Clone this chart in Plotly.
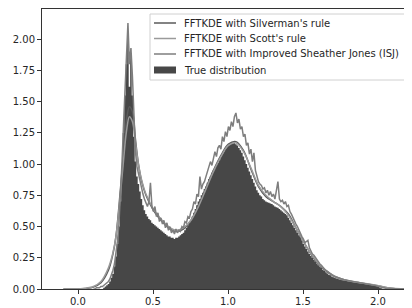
import plotly.graph_objects as go

# ---- data ----
TRUE_X0 = 0.15  # grid start for the true distribution, step 0.01
true_vals = [
    0.00, 0.00, 0.01, 0.02, 0.03, 0.04, 0.06, 0.09, 0.12, 0.18,
    0.26, 0.36, 0.50, 0.70, 0.95, 1.25, 1.55, 1.80, 1.98, 1.62,
    1.88, 1.55, 1.22, 1.02, 0.90, 0.84, 0.78, 0.72, 0.67, 0.63,
    0.60, 0.58, 0.56, 0.55, 0.53, 0.52, 0.51, 0.50, 0.49, 0.48,
    0.47, 0.46, 0.45, 0.44, 0.43, 0.42, 0.42, 0.41, 0.41, 0.40,
    0.41, 0.41, 0.42, 0.43, 0.44, 0.45, 0.47, 0.49, 0.51, 0.53,
    0.55, 0.58, 0.61, 0.64, 0.67, 0.70, 0.72, 0.75, 0.77, 0.80,
    0.82, 0.85, 0.88, 0.90, 0.93, 0.95, 0.97, 0.99, 1.01, 1.03,
    1.06, 1.08, 1.10, 1.12, 1.14, 1.15, 1.16, 1.17, 1.17, 1.17,
    1.16, 1.15, 1.13, 1.11, 1.09, 1.06, 1.03, 1.00, 0.97, 0.94,
    0.91, 0.88, 0.85, 0.82, 0.79, 0.77, 0.75, 0.74, 0.72, 0.71,
    0.70, 0.695, 0.69, 0.685, 0.68, 0.67, 0.66, 0.655, 0.65, 0.64,
    0.63, 0.62, 0.61, 0.60, 0.59, 0.57, 0.55, 0.53, 0.51, 0.49,
    0.47, 0.45, 0.43, 0.42, 0.39, 0.36, 0.34, 0.32, 0.30, 0.28,
    0.265, 0.25, 0.235, 0.22, 0.205, 0.19, 0.18, 0.17, 0.155, 0.145,
    0.135, 0.125, 0.115, 0.11, 0.10, 0.095, 0.09, 0.085, 0.08, 0.077,
    0.074, 0.071, 0.068, 0.066, 0.064, 0.062, 0.06, 0.058, 0.056, 0.054,
    0.052, 0.05, 0.048, 0.046, 0.044, 0.042, 0.04, 0.038, 0.036, 0.034,
    0.032, 0.03, 0.028, 0.025, 0.022, 0.018, 0.012, 0.006, 0.003, 0.001,
    0.0,
]

ISJ_X0 = 0.10  # grid start for the ISJ estimate, step 0.01
isj_vals = [
    0.00, 0.00, 0.01, 0.01, 0.01, 0.02, 0.02, 0.03, 0.04, 0.05,
    0.06, 0.08, 0.11, 0.15, 0.20, 0.28, 0.38, 0.52, 0.72, 1.00,
    1.30, 1.62, 1.95, 2.13, 1.80, 1.93, 1.70, 1.35, 1.10, 0.98,
    0.92, 0.86, 0.80, 0.76, 0.72, 0.69, 0.66, 0.70, 0.85, 0.66,
    0.62, 0.66, 0.58, 0.61, 0.54, 0.57, 0.52, 0.55, 0.49, 0.53,
    0.47, 0.50, 0.45, 0.47, 0.44, 0.48, 0.45, 0.47, 0.46, 0.50,
    0.49, 0.54, 0.53, 0.58, 0.57, 0.62, 0.64, 0.70, 0.68, 0.76,
    0.74, 0.90, 0.80, 0.84, 0.86, 0.90, 0.94, 0.97, 1.02, 0.99,
    1.05, 1.10, 1.06, 1.13, 1.15, 1.12, 1.22, 1.18, 1.26, 1.22,
    1.30, 1.27, 1.34, 1.30, 1.38, 1.41, 1.33, 1.36, 1.28, 1.30,
    1.22, 1.24, 1.15, 1.17, 1.08, 1.12, 1.02, 1.09, 0.95, 0.90,
    0.86, 0.84, 0.83, 0.80, 0.81, 0.77, 0.79, 0.75, 0.78, 0.74,
    0.76, 0.72, 0.79, 0.86, 0.72, 0.70, 0.71, 0.68, 0.70, 0.66,
    0.67, 0.62, 0.60, 0.57, 0.55, 0.52, 0.50, 0.47, 0.45, 0.42,
    0.40, 0.37, 0.38, 0.39, 0.33, 0.30, 0.28, 0.27, 0.25, 0.23,
    0.21, 0.20, 0.19, 0.17, 0.16, 0.15, 0.14, 0.13, 0.12, 0.115,
    0.105, 0.10, 0.095, 0.09, 0.085, 0.08, 0.08, 0.075, 0.072, 0.07,
    0.068, 0.065, 0.063, 0.06, 0.058, 0.056, 0.055, 0.053, 0.05, 0.05,
    0.048, 0.045, 0.043, 0.04, 0.038, 0.036, 0.034, 0.031, 0.028, 0.025,
    0.021, 0.017, 0.013, 0.01, 0.007, 0.005, 0.004, 0.003, 0.002, 0.001,
    0.0, 0.0, 0.0, 0.0, 0.0, 0.0, 0.0, 0.0, 0.0, 0.0, 0.0,
]

smooth_x = [-0.10, 0.00, 0.05, 0.10, 0.15, 0.20, 0.23, 0.25, 0.28, 0.30,
            0.32, 0.34, 0.36, 0.38, 0.40, 0.42, 0.45, 0.50, 0.55, 0.60,
            0.65, 0.70, 0.75, 0.80, 0.85, 0.90, 0.95, 1.00, 1.05, 1.10,
            1.15, 1.20, 1.25, 1.30, 1.35, 1.40, 1.45, 1.50, 1.55, 1.60,
            1.65, 1.70, 1.75, 1.80, 1.90, 2.00, 2.05, 2.10, 2.20]
silverman_vals = [0.0, 0.0, 0.004, 0.015, 0.05, 0.15, 0.28, 0.42, 0.80, 1.08,
                  1.35, 1.46, 1.42, 1.20, 1.00, 0.87, 0.75, 0.63, 0.55, 0.49,
                  0.46, 0.48, 0.55, 0.67, 0.81, 0.95, 1.07, 1.16, 1.18, 1.11,
                  0.96, 0.82, 0.74, 0.70, 0.66, 0.60, 0.49, 0.38, 0.28, 0.20,
                  0.145, 0.105, 0.08, 0.065, 0.045, 0.025, 0.012, 0.005, 0.0]
scott_vals = [0.0, 0.001, 0.006, 0.02, 0.06, 0.17, 0.29, 0.42, 0.76, 1.02,
              1.26, 1.38, 1.34, 1.17, 1.00, 0.88, 0.76, 0.64, 0.56, 0.50,
              0.47, 0.49, 0.55, 0.66, 0.80, 0.94, 1.06, 1.15, 1.17, 1.10,
              0.97, 0.83, 0.75, 0.70, 0.66, 0.59, 0.49, 0.38, 0.285, 0.205,
              0.15, 0.108, 0.082, 0.066, 0.046, 0.026, 0.013, 0.006, 0.0]

legend_labels = ["FFTKDE with Silverman's rule",
                 "FFTKDE with Scott's rule",
                 "FFTKDE with Improved Sheather Jones (ISJ)",
                 "True distribution"]

x_ticks = [0.0, 0.5, 1.0, 1.5, 2.0]
y_ticks = [0.0, 0.25, 0.5, 0.75, 1.0, 1.25, 1.5, 1.75, 2.0]

# ---- styles ----
C_SIL = "#5a5a5a"
C_SCOTT = "#9a9a9a"
C_ISJ = "#7e7e7e"
C_TRUE = "#474747"
FONT = "DejaVu Sans"
TXT = "#262626"

true_x = [round(TRUE_X0 + 0.01 * i, 2) for i in range(len(true_vals))]
isj_x = [round(ISJ_X0 + 0.01 * i, 2) for i in range(len(isj_vals))]

fig = go.Figure()
fig.add_trace(go.Scatter(x=true_x, y=true_vals, mode="lines", line=dict(width=0, shape="hvh"),
                         fill="tozeroy", fillcolor=C_TRUE, showlegend=False, hoverinfo="skip"))
fig.add_trace(go.Scatter(x=smooth_x, y=silverman_vals, mode="lines",
                         line=dict(color=C_SIL, width=1.5, shape="spline"), showlegend=False))
fig.add_trace(go.Scatter(x=smooth_x, y=scott_vals, mode="lines",
                         line=dict(color=C_SCOTT, width=1.5, shape="spline"), showlegend=False))
fig.add_trace(go.Scatter(x=isj_x, y=isj_vals, mode="lines",
                         line=dict(color=C_ISJ, width=1.5), showlegend=False))

# The page body has an 8px default margin, so the figure is drawn 8px in from the
# window's top-left corner. Screen coordinates below are converted accordingly.
OFF = 8
FIG_W, FIG_H = 412 - OFF, 308 - OFF
L, T, R_, B = 42, 9, 412, 289          # plot area in screen pixels
W, H = R_ - L, B - T

def px(xp):
    return (xp - L) / W

def py(yp):
    return (B - yp) / H

fig.add_shape(type="rect", xref="paper", yref="paper", x0=px(150), x1=px(420), y0=py(80), y1=py(14),
              line=dict(color="#d0d0d0", width=1), fillcolor="rgba(255,255,255,0.85)", layer="above")
rows = [23, 38.5, 54, 70]
colors = [C_SIL, C_SCOTT, C_ISJ]
for i, lab in enumerate(legend_labels):
    yy = rows[i]
    if i < 3:
        fig.add_shape(type="line", xref="paper", yref="paper", x0=px(154), x1=px(176), y0=py(yy), y1=py(yy),
                      line=dict(color=colors[i], width=1.5), layer="above")
    else:
        fig.add_shape(type="rect", xref="paper", yref="paper", x0=px(154), x1=px(176), y0=py(yy + 3.5),
                      y1=py(yy - 3.5), line=dict(width=0), fillcolor=C_TRUE, layer="above")
    fig.add_annotation(xref="paper", yref="paper", x=px(183), y=py(yy), text=lab, showarrow=False,
                       xanchor="left", yanchor="middle", borderpad=0,
                       font=dict(family=FONT, size=10, color=TXT))

# x tick labels as text centred just below the ticks (as in the reference)
for v in x_ticks:
    fig.add_annotation(xref="x", yref="paper", x=v, y=0, yanchor="middle", yshift=-12, showarrow=False,
                       borderpad=0, text=f"{v:.1f}", font=dict(family=FONT, size=10, color=TXT))

axis_common = dict(showline=True, linecolor="#333333", linewidth=1, ticks="outside",
                   ticklen=4, tickcolor="#333333", showgrid=False, zeroline=False,
                   tickfont=dict(family=FONT, size=10, color=TXT))
fig.update_xaxes(range=[-0.243, 2.224], tickvals=x_ticks, showticklabels=False, mirror=True, **axis_common)
fig.update_yaxes(range=[0, 2.242], tickvals=y_ticks, ticktext=[f"{v:.2f}" for v in y_ticks],
                 mirror=False, **axis_common)
fig.update_layout(width=FIG_W, height=FIG_H,
                  margin=dict(l=L - OFF, r=FIG_W - (R_ - OFF), t=T - OFF, b=FIG_H - (B - OFF)),
                  plot_bgcolor="white", paper_bgcolor="white", showlegend=False)

fig.write_html("out.html")
